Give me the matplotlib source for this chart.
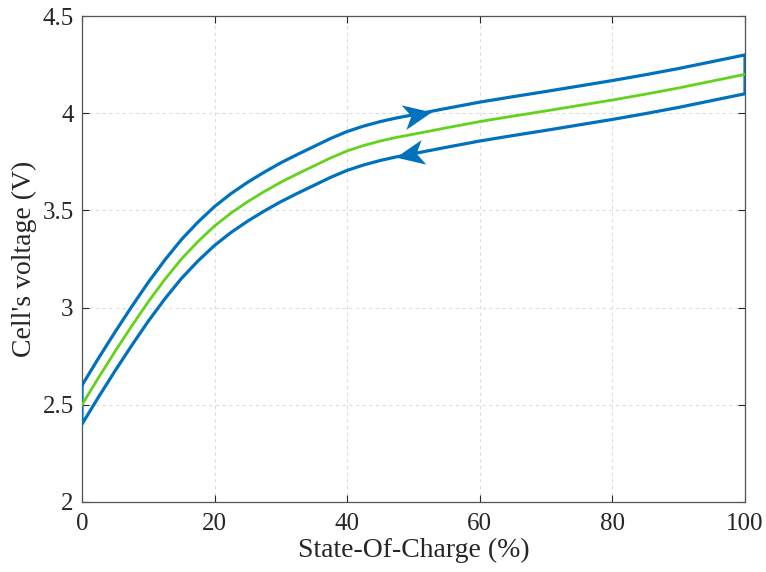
import numpy as np
import matplotlib
matplotlib.use("Agg")
import matplotlib.pyplot as plt
from matplotlib.path import Path
from matplotlib.markers import MarkerStyle
from matplotlib.transforms import Affine2D

soc = [0, 2.5, 5, 7.5, 10, 12.5, 15, 17.5, 20, 22.5, 25, 27.5, 30, 32.5, 35, 37.5, 40, 42.5, 45,
       47.5, 50, 55, 60, 65, 70, 75, 80, 85, 90, 95, 100]
ocv = [2.500, 2.640, 2.775, 2.905, 3.030, 3.145, 3.250, 3.340, 3.420, 3.487, 3.545, 3.597, 3.645,
       3.688, 3.729, 3.770, 3.806, 3.834, 3.857, 3.876, 3.892, 3.925, 3.957, 3.985, 4.012, 4.040,
       4.068, 4.098, 4.130, 4.165, 4.200]
v_charge = [2.600, 2.740, 2.875, 3.005, 3.130, 3.245, 3.350, 3.440, 3.520, 3.587, 3.645, 3.697,
            3.745, 3.788, 3.829, 3.870, 3.906, 3.934, 3.957, 3.976, 3.992, 4.025, 4.057, 4.085,
            4.112, 4.140, 4.168, 4.198, 4.230, 4.265, 4.300]
v_discharge = [2.400, 2.540, 2.675, 2.805, 2.930, 3.045, 3.150, 3.240, 3.320, 3.387, 3.445, 3.497,
               3.545, 3.588, 3.629, 3.670, 3.706, 3.734, 3.757, 3.776, 3.792, 3.825, 3.857, 3.885,
               3.912, 3.940, 3.968, 3.998, 4.030, 4.065, 4.100]

xticks = [0, 20, 40, 60, 80, 100]
yticks = [2, 2.5, 3, 3.5, 4, 4.5]
ytick_labels = ["2", "2.5", "3", "3.5", "4", "4.5"]

blue = "#0072BD"
green = "#62D21A"

plt.rcParams["font.family"] = ["Liberation Serif", "DejaVu Serif"]

fig = plt.figure(figsize=(7.66, 5.72), dpi=100)
ax = fig.add_axes([0.107, 0.1224, 0.8656, 0.8496])

# hysteresis loop: charge up, drop at 100 %, discharge back, rise at 0 %
loop_x = soc + soc[::-1] + [soc[0]]
loop_y = v_charge + v_discharge[::-1] + [v_charge[0]]
ax.plot(loop_x, loop_y, color=blue, lw=2.3, solid_joinstyle="miter", zorder=3)
ax.plot(soc, ocv, color=green, lw=2.0, zorder=3)

ax.set_xlim(0, 100)
ax.set_ylim(2, 4.5)
ax.set_xticks(xticks)
ax.set_yticks(yticks)
ax.set_xticklabels([str(t) for t in xticks])
ax.set_yticklabels(ytick_labels)
ax.tick_params(direction="in", top=True, right=True, length=5, width=0.8,
               labelsize=18, colors="#262626", pad=6)
ax.tick_params(axis="x", pad=8)
for s in ax.spines.values():
    s.set_color("#555555")
    s.set_linewidth(0.9)
ax.grid(True, ls=(0, (3, 3)), color="#dcdcdc", lw=0.8)
ax.set_axisbelow(True)

ax.set_xlabel("State-Of-Charge (%)", fontsize=20, color="#262626", labelpad=2)
ax.set_ylabel("Cell's voltage (V)", fontsize=20, color="#262626", labelpad=4)

# swept-back arrow heads on the loop
head = Path([(1.0, 0.0), (-0.7, 0.75), (-0.25, 0.0), (-0.7, -0.75), (1.0, 0.0)],
            [Path.MOVETO, Path.LINETO, Path.LINETO, Path.LINETO, Path.CLOSEPOLY])


def draw_head(xs, ys, x0, forward):
    y0 = np.interp(x0, xs, ys)
    p1 = ax.transData.transform((x0 - 2, np.interp(x0 - 2, xs, ys)))
    p2 = ax.transData.transform((x0 + 2, np.interp(x0 + 2, xs, ys)))
    ang = np.degrees(np.arctan2(p2[1] - p1[1], p2[0] - p1[0]))
    if not forward:
        ang += 180
    m = MarkerStyle(head, transform=Affine2D().rotate_deg(ang))
    ax.plot([x0], [y0], marker=m, ms=24, color=blue, mec=blue, mew=0, zorder=4)


fig.canvas.draw()
draw_head(soc, v_charge, 50.2, True)
draw_head(soc, v_discharge, 49.8, False)

fig.savefig("out.png", dpi=100)
